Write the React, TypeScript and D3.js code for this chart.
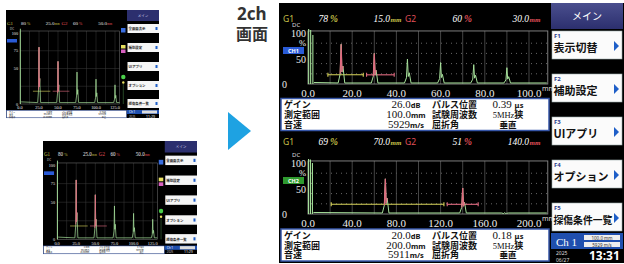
import * as d3 from "d3";

const JP = "'Noto Sans CJK JP', sans-serif";
const SERIF = "'Liberation Serif', 'DejaVu Serif', serif";
const SANS = "'Noto Sans', 'Open Sans', sans-serif";

const GREEN = "#a6e09a";
const RED = "#e06a80";
const GATE_Y = "#d8d45a";
const G1_COL = "#c9c24a";
const G2_COL = "#e0505a";
const NAVY = "#2c2f6e";
const BLUE_TRI = "#1f5fc8";

// ch1 (0-100mm)
const CH1_TICKS = [0, 20, 40, 60, 80, 100];
const CH1_ECHO_POS = [15, 30, 45, 60, 75, 90];
const CH1_ECHO_AMP = [78, 60, 49, 42, 38, 32];
const CH1_GATED = [0, 1];
const CH1_INIT_POS = [0.3, 1.2, 2.2];
const CH1_INIT_AMP = [108, 106, 96];
const CH1_GATE_START = [9, 26.5];
const CH1_GATE_END = [25, 39];
const CH1_GATE_LEVEL = [18, 18];
const CH1_VALUES = [["26.0", "dB"], ["100.0", "mm"], ["5929", "m/s"]];
const CH1_RIGHT = [["0.39 ", "μs"], ["5MHz", "狭"], ["垂直", ""]];

// ch2 (0-200mm)
const CH2_TICKS = [0, 40, 80, 120, 160, 200];
const CH2_ECHO_POS = [70, 140, 178];
const CH2_ECHO_AMP = [69, 51, 3];
const CH2_GATED = [0, 1];
const CH2_INIT_POS = [0.5, 2.2, 4];
const CH2_INIT_AMP = [108, 107, 100];
const CH2_GATE_START = [21, 126];
const CH2_GATE_END = [123, 154];
const CH2_GATE_LEVEL = [19, 19];
const CH2_VALUES = [["20.0", "dB"], ["200.0", "mm"], ["5911", "m/s"]];
const CH2_RIGHT = [["0.18 ", "μs"], ["5MHz", "狭"], ["垂直", ""]];

const INFO_LEFT = ["ゲイン", "測定範囲", "音速"];
const INFO_MID = ["パルス位置", "試験周波数", "屈折角"];

const MENU_ITEMS = ["表示切替", "補助設定", "UIアプリ", "オプション", "探傷条件一覧"];
const MENU_KEYS = ["F1", "F2", "F3", "F4", "F5"];

// small single-channel screens
const MINI_TICKS = [0, 25, 50, 75, 100, 125];
const MINI_ECHO_POS = [25, 50, 75, 100, 125];
const MINI_ECHO_AMP = [80, 60, 45, 35, 27];
const MINI_GATED = [0, 1];
const MINI_GATE_START = [17, 43];
const MINI_GATE_END = [40, 65];
const MINI_GATE_LEVEL = [18, 18];
const MINI_MENU = ["全画面表示", "補助設定", "UIアプリ", "オプション", "探傷条件一覧"];
const MINI_INFO_LEFT = ["ゲイン", "音速", "探触子"];
const MINI_INFO_VAL = ["4.0dB", "5913m/s", "15.00mm"];
const MINI_INFO_MID = ["パルス位置", "試験周波数", "屈折角"];
const MINI_INFO_RIGHT = ["0.74μs", "5MHz狭", "垂直"];

type Sc = d3.ScaleLinear<number, number>;

const spikePts = (x: Sc, y: Sc, pos: number, amp: number, w: number): [number, number][] => {
  const cx = x(pos);
  return [
    [cx - w * 1.5, y(2)],
    [cx - w * 0.5, y(amp * 0.25)],
    [cx, y(amp)],
    [cx + w * 0.4, y(amp * 0.3)],
    [cx + w * 0.9, y(amp * 0.45)],
    [cx + w * 1.8, y(2)],
  ];
};

const line = d3.line<[number, number]>();

interface ChannelProps {
  headY: number;
  base: number;
  top100: number;
  xMax: number;
  majorStep: number;
  ticks: number[];
  echoPos: number[];
  echoAmp: number[];
  gated: number[];
  initPos: number[];
  initAmp: number[];
  gateStart: number[];
  gateEnd: number[];
  gateLevel: number[];
  badge: string;
  badgeColor: string;
  values: string[][];
  right: string[][];
  infoTop: number;
}

const Channel = (p: ChannelProps) => {
  const x = d3.scaleLinear().domain([0, p.xMax]).range([308, 529]);
  const y = d3.scaleLinear().domain([0, 100]).range([p.base, p.top100]);
  const boxRight = x(p.xMax * 1.085);
  const boxTop = y(104);
  const majors = d3.range(p.majorStep, p.xMax * 1.08, p.majorStep);
  const trace: [number, number][] = [[x(p.initPos[p.initPos.length - 1]) + 1, y(3)]];
  p.echoPos.forEach((pos, i) => trace.push(...spikePts(x, y, pos, p.echoAmp[i], 2)));
  trace.push([boxRight - 1, y(2)]);
  const g1 = p.gated[0];
  const g2 = p.gated[1];
  const rowY = [0, 1, 2].map((i) => p.infoTop + 9.8 + i * 9.8);
  return (
    <g>
      {/* header */}
      <g fontFamily={SERIF} fontSize={9.5} fontStyle="italic">
        <text x={283} y={p.headY} fill={G1_COL} fontStyle="normal" fontFamily={SANS} fontSize={8.5}>G1</text>
        <text x={328} y={p.headY} fill="#fff" textAnchor="end">{p.echoAmp[g1]}</text>
        <text x={330} y={p.headY} fill={G1_COL} fontWeight="bold">%</text>
        <text x={390} y={p.headY} fill="#fff" textAnchor="end">{p.echoPos[g1].toFixed(1)}</text>
        <text x={390.5} y={p.headY} fill={G1_COL} fontSize={7} fontWeight="bold">mm</text>
        <text x={405} y={p.headY} fill={G2_COL} fontStyle="normal" fontFamily={SANS} fontSize={8.5}>G2</text>
        <text x={462} y={p.headY} fill="#fff" textAnchor="end">{p.echoAmp[g2]}</text>
        <text x={464} y={p.headY} fill={G2_COL} fontWeight="bold">%</text>
        <text x={529} y={p.headY} fill="#fff" textAnchor="end">{p.echoPos[g2].toFixed(1)}</text>
        <text x={529.5} y={p.headY} fill={G2_COL} fontSize={7} fontWeight="bold">mm</text>
      </g>
      {/* y axis */}
      <text x={292} y={p.top100 - 6.5} fill="#ddd" fontSize={6} fontFamily={SANS}>DC</text>
      <g fontFamily={SERIF} fill="#eee" fontSize={10} textAnchor="end">
        <text x={306} y={y(100) + 3.5}>100</text>
        <text x={306} y={y(100) + 12.5} fontSize={8.5}>%</text>
        <text x={306} y={y(50) + 4}>50</text>
        <text x={287} y={y(0) + 4}>0</text>
      </g>
      <rect x={283} y={y(100) + 14} width={21} height={7} fill={p.badgeColor} />
      <text x={293.5} y={y(100) + 19.8} fill="#fff" fontSize={5.5} fontFamily={SANS} textAnchor="middle" fontWeight="bold">{p.badge}</text>
      {/* grid */}
      <g stroke="#666" strokeDasharray="1 4" strokeWidth={1}>
        {[20, 40, 60, 80].map((v) => (
          <line key={v} x1={x(0) + 3} x2={boxRight} y1={y(v)} y2={y(v)} />
        ))}
      </g>
      <g stroke="#555" strokeWidth={0.8}>
        {majors.map((m) => (
          <line key={m} x1={x(m)} x2={x(m)} y1={boxTop} y2={y(0)} />
        ))}
      </g>
      <rect x={x(0)} y={boxTop} width={boxRight - x(0)} height={y(0) - boxTop} fill="none" stroke="#8a8a8a" strokeWidth={0.9} />
      {/* x labels */}
      <g fontFamily={SERIF} fill="#eee" fontSize={11} textAnchor="middle">
        {p.ticks.map((t) => (
          <text key={t} x={x(t)} y={y(0) + 13}>{t.toFixed(1)}</text>
        ))}
      </g>
      <text x={542} y={y(0) + 7} fill="#ddd" fontSize={7} fontFamily={SANS}>mm</text>
      {/* gates */}
      {p.gateStart.map((s, i) => {
        const c = i === 0 ? GATE_Y : RED;
        const gy = y(p.gateLevel[i]);
        return (
          <g key={i} stroke={c} strokeWidth={1.1}>
            <line x1={x(s)} x2={x(p.gateEnd[i])} y1={gy} y2={gy} />
            <line x1={x(s)} x2={x(s)} y1={gy - 2} y2={gy + 2} />
            <line x1={x(p.gateEnd[i])} x2={x(p.gateEnd[i])} y1={gy - 2} y2={gy + 2} />
          </g>
        );
      })}
      {/* initial pulse */}
      <g stroke={GREEN} strokeWidth={1.1}>
        {p.initPos.map((pos, i) => (
          <line key={i} x1={x(pos)} x2={x(pos)} y1={y(0)} y2={y(p.initAmp[i])} />
        ))}
      </g>
      <path d={line(trace) ?? ""} fill="none" stroke={GREEN} strokeWidth={1} />
      {p.gated.map((i) => (
        <path key={i} d={line(spikePts(x, y, p.echoPos[i], p.echoAmp[i], 2).slice(1, 5)) ?? ""} fill="none" stroke={RED} strokeWidth={1.2} />
      ))}
      {/* info box */}
      <rect x={281} y={p.infoTop} width={268} height={32} fill="#fff" stroke="#3656a8" strokeWidth={1.5} />
      <g fontFamily={JP} fontSize={9} fontWeight="bold" fill="#111">
        {INFO_LEFT.map((t, i) => (
          <text key={t} x={284} y={rowY[i]}>{t}</text>
        ))}
        {INFO_MID.map((t, i) => (
          <text key={t} x={432} y={rowY[i]}>{t}</text>
        ))}
      </g>
      {p.values.map((v, i) => (
        <text key={i} x={406} y={rowY[i]} textAnchor="middle" fill="#111" fontFamily={SERIF} fontSize={11}>
          {v[0]}
          <tspan fontSize={7.5} fontFamily={SANS} fontWeight="bold">{v[1]}</tspan>
        </text>
      ))}
      {p.right.map((v, i) => (
        <text key={i} x={508} y={rowY[i]} textAnchor="middle" fill="#111" fontFamily={i === 2 ? JP : SERIF} fontSize={i === 0 ? 11 : 8.5} fontWeight={i === 2 ? "bold" : "normal"}>
          {v[0]}
          <tspan fontSize={i === 1 ? 9 : 7.5} fontFamily={i === 1 ? JP : SANS} fontWeight="bold">{v[1]}</tspan>
        </text>
      ))}
    </g>
  );
};

const MainMenu = () => {
  const tops = [31, 74, 117, 160, 203];
  return (
    <g>
      <defs>
        <linearGradient id="nav" x1="0" y1="0" x2="0" y2="1">
          <stop offset="0" stopColor="#4a4f8e" />
          <stop offset="1" stopColor={NAVY} />
        </linearGradient>
      </defs>
      <rect x={551} y={3} width={72} height={26} fill="url(#nav)" />
      <text x={587} y={20} fill="#fff" fontFamily={JP} fontSize={10} textAnchor="middle">メイン</text>
      {MENU_ITEMS.map((m, i) => (
        <g key={m}>
          <rect x={552} y={tops[i]} width={70} height={28} fill="#fbfbfb" stroke="#9aa" strokeWidth={0.6} />
          <text x={554} y={tops[i] + 6.5} fill="#2b3a8a" fontFamily={SANS} fontSize={6} fontWeight="bold">{MENU_KEYS[i]}</text>
          <text x={553.5} y={tops[i] + 21} fill="#111" fontFamily={JP} fontSize={m.length > 5 ? 9.8 : 11} fontWeight="bold">{m}</text>
          <path d={`M614,${tops[i] + 10} L619,${tops[i] + 15} L614,${tops[i] + 20} Z`} fill={BLUE_TRI} />
        </g>
      ))}
      <rect x={551} y={233} width={72} height={16} fill="#1f4fae" />
      <text x={556} y={246} fill="#fff" fontFamily={SERIF} fontSize={11}>Ch  1</text>
      <rect x={584} y={235} width={36} height={5} fill="#eee" />
      <rect x={584} y={242} width={36} height={5} fill="#eee" />
      <text x={602} y={239.5} fill="#333" fontFamily={SANS} fontSize={4.5} textAnchor="middle">100.0 mm</text>
      <text x={602} y={246.5} fill="#333" fontFamily={SANS} fontSize={4.5} textAnchor="middle">5929 m/s</text>
      <text x={556} y={254.5} fill="#ddd" fontFamily={SANS} fontSize={5}>2025</text>
      <text x={556} y={261.5} fill="#ddd" fontFamily={SANS} fontSize={5}>06/27</text>
      <text x={589} y={260} fill="#fff" fontFamily={SANS} fontSize={12} fontWeight="bold">13:31</text>
    </g>
  );
};

const MiniScreen = ({ x0, y0, w, h }: { x0: number; y0: number; w: number; h: number }) => {
  const x = d3.scaleLinear().domain([0, 125]).range([14, 109]);
  const y = d3.scaleLinear().domain([0, 100]).range([94, 23]);
  const boxRight = x(131);
  const trace: [number, number][] = [[x(1.5), y(3)]];
  MINI_ECHO_POS.forEach((pos, i) => trace.push(...spikePts(x, y, pos, MINI_ECHO_AMP[i], 0.9)));
  trace.push([boxRight, y(2)]);
  const btnTops = [14, 33, 52, 71, 89];
  const g1 = MINI_GATED[0];
  const g2 = MINI_GATED[1];
  const infoY = [0, 1, 2].map((i) => 102.6 + i * 2.45);
  return (
    <g transform={`translate(${x0},${y0}) scale(${w / 153},${h / 108})`}>
      <rect x={0} y={0} width={153} height={108} fill="#000" />
      <g fontFamily={SERIF} fontSize={5} fill="#eee">
        <text x={1} y={14.5} fill={G1_COL}>G1</text>
        <text x={20} y={14.5} textAnchor="end">{MINI_ECHO_AMP[g1]}</text>
        <text x={21} y={14.5} fill={G1_COL} fontSize={4}>%</text>
        <text x={48.5} y={14.5} textAnchor="end">{MINI_ECHO_POS[g1].toFixed(1)}</text>
        <text x={48.8} y={14.5} fill={G1_COL} fontSize={3}>mm</text>
        <text x={55.5} y={14.5} fill={G2_COL}>G2</text>
        <text x={72} y={14.5} textAnchor="end">{MINI_ECHO_AMP[g2]}</text>
        <text x={73} y={14.5} fill={G2_COL} fontSize={4}>%</text>
        <text x={101} y={14.5} textAnchor="end">{MINI_ECHO_POS[g2].toFixed(1)}</text>
        <text x={101.3} y={14.5} fill={G2_COL} fontSize={3}>mm</text>
      </g>
      <text x={4} y={19.5} fill="#ccc" fontSize={3} fontFamily={SANS}>DC</text>
      <g fontFamily={SERIF} fontSize={4.2} fill="#eee" textAnchor="end">
        {[100, 75, 50, 0].map((v) => (
          <text key={v} x={12} y={y(v) + 1.5}>{v}</text>
        ))}
      </g>
      <rect x={1} y={29} width={10} height={3.5} fill="#2a5bd7" />
      <g stroke="#3a3a3a" strokeWidth={0.5}>
        {d3.range(12.5, 131, 12.5).map((m) => (
          <line key={m} x1={x(m)} x2={x(m)} y1={21} y2={y(0)} />
        ))}
        {[25, 50, 75].map((v) => (
          <line key={v} x1={x(0)} x2={boxRight} y1={y(v)} y2={y(v)} />
        ))}
      </g>
      <rect x={x(0)} y={21} width={boxRight - x(0)} height={y(0) - 21} fill="none" stroke="#777" strokeWidth={0.5} />
      <g fontFamily={SERIF} fontSize={4.3} fill="#eee" textAnchor="middle">
        {MINI_TICKS.map((t) => (
          <text key={t} x={x(t)} y={99.3}>{t.toFixed(1)}</text>
        ))}
      </g>
      {MINI_GATE_START.map((s, i) => (
        <line key={i} x1={x(s)} x2={x(MINI_GATE_END[i])} y1={y(MINI_GATE_LEVEL[i])} y2={y(MINI_GATE_LEVEL[i])} stroke={i === 0 ? GATE_Y : RED} strokeWidth={0.6} />
      ))}
      <line x1={x(0.5)} x2={x(0.5)} y1={y(0)} y2={y(106)} stroke={GREEN} strokeWidth={0.9} />
      <path d={line(trace) ?? ""} fill="none" stroke={GREEN} strokeWidth={0.7} />
      {MINI_GATED.map((i) => (
        <path key={i} d={line(spikePts(x, y, MINI_ECHO_POS[i], MINI_ECHO_AMP[i], 0.9).slice(1, 5)) ?? ""} fill="none" stroke={RED} strokeWidth={0.8} />
      ))}
      <rect x={115} y={18} width={4.5} height={4.5} fill="#3a6ee0" />
      <rect x={115} y={35} width={4.5} height={3.5} fill="#e8e060" />
      <rect x={115} y={39.5} width={4.5} height={3.5} fill="#d860c0" />
      <circle cx={117.3} cy={67} r={2.2} fill="#4ad04a" />
      <circle cx={117.3} cy={72.5} r={1.2} fill="#e8e060" />
      <line x1={117.3} x2={117.3} y1={74} y2={94} stroke="#4a8a4a" strokeWidth={0.5} />
      {/* info */}
      <rect x={0.5} y={100.3} width={120} height={7.5} fill="#fff" stroke="#3656a8" strokeWidth={0.5} />
      <g fontFamily={JP} fontSize={2.1} fill="#111">
        {MINI_INFO_LEFT.map((t, i) => (
          <text key={t} x={3} y={infoY[i]}>{t}</text>
        ))}
        {MINI_INFO_VAL.map((t, i) => (
          <text key={t} x={46} y={infoY[i]} textAnchor="end">{t}</text>
        ))}
        {MINI_INFO_MID.map((t, i) => (
          <text key={t} x={56} y={infoY[i]}>{t}</text>
        ))}
        {MINI_INFO_RIGHT.map((t, i) => (
          <text key={t} x={100} y={infoY[i]} textAnchor="end">{t}</text>
        ))}
      </g>
      {/* menu */}
      <rect x={121} y={0} width={32} height={11} fill={NAVY} />
      <text x={137} y={7} fill="#dde" fontFamily={JP} fontSize={3.5} textAnchor="middle">メイン</text>
      {MINI_MENU.map((m, i) => (
        <g key={m}>
          <rect x={121.5} y={btnTops[i]} width={31.5} height={9} fill="#f6f6f6" />
          <text x={122.5} y={btnTops[i] + 6.3} fill="#222" fontFamily={JP} fontSize={3.4} fontWeight="bold">{m}</text>
          <rect x={149.5} y={btnTops[i] + 3} width={2} height={3} fill={BLUE_TRI} />
        </g>
      ))}
      <rect x={121} y={100} width={32} height={4} fill="#1f4fae" />
      <text x={123} y={103.3} fill="#fff" fontSize={3} fontFamily={SANS}>Ch 1</text>
      <rect x={136} y={100.5} width={15} height={3} fill="#ddd" />
      <text x={123} y={107.5} fill="#ccc" fontSize={2.8} fontFamily={SANS}>2025</text>
      <text x={140} y={107.5} fill="#eee" fontSize={3.5} fontFamily={SANS}>11:29</text>
    </g>
  );
};

export default function App() {
  return (
    <svg width={624} height={264} style={{ position: "absolute", left: 0, top: 0, background: "#fff" }}>
      <rect width={624} height={264} fill="#fff" />
      <MiniScreen x0={6} y0={10} w={153} h={108} />
      <MiniScreen x0={43} y0={141} w={154} h={113} />
      <text x={237} y={20} fill="#333" fontFamily={SANS} fontSize={17} fontWeight="bold">2ch</text>
      <text x={236} y={40} fill="#333" fontFamily={JP} fontSize={16} fontWeight="bold">画面</text>
      <path d="M228,112 L251,131 L228,150 Z" fill="#1ea2e2" />
      <rect x={279} y={3} width={345} height={260} fill="#000" />
      <Channel
        headY={22}
        base={84}
        top100={33}
        xMax={100}
        majorStep={10}
        ticks={CH1_TICKS}
        echoPos={CH1_ECHO_POS}
        echoAmp={CH1_ECHO_AMP}
        gated={CH1_GATED}
        initPos={CH1_INIT_POS}
        initAmp={CH1_INIT_AMP}
        gateStart={CH1_GATE_START}
        gateEnd={CH1_GATE_END}
        gateLevel={CH1_GATE_LEVEL}
        badge="CH1"
        badgeColor="#2a5bd7"
        values={CH1_VALUES}
        right={CH1_RIGHT}
        infoTop={98.5}
      />
      <Channel
        headY={145}
        base={214}
        top100={163}
        xMax={200}
        majorStep={20}
        ticks={CH2_TICKS}
        echoPos={CH2_ECHO_POS}
        echoAmp={CH2_ECHO_AMP}
        gated={CH2_GATED}
        initPos={CH2_INIT_POS}
        initAmp={CH2_INIT_AMP}
        gateStart={CH2_GATE_START}
        gateEnd={CH2_GATE_END}
        gateLevel={CH2_GATE_LEVEL}
        badge="CH2"
        badgeColor="#2f9a2f"
        values={CH2_VALUES}
        right={CH2_RIGHT}
        infoTop={229}
      />
      <MainMenu />
    </svg>
  );
}
